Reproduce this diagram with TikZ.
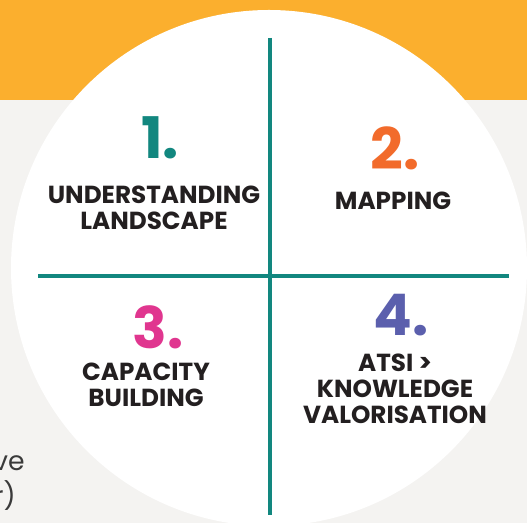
\documentclass[tikz,border=0pt]{standalone}
\usepackage{fontspec}
\setmainfont{Poppins}
\usepackage{xcolor}
\usetikzlibrary{positioning}
\definecolor{bandorange}{HTML}{FBAF2E}
\definecolor{bggray}{HTML}{F4F3F1}
\definecolor{stepteal}{HTML}{12877F}
\definecolor{steporange}{HTML}{F26B2B}
\definecolor{stepmagenta}{HTML}{E0368F}
\definecolor{steppurple}{HTML}{5B5FAD}
\definecolor{labeldark}{HTML}{231F20}
\definecolor{sidegray}{HTML}{3A3A3A}

\begin{document}
\begin{tikzpicture}[x=0.75pt, y=-0.75pt,
  num/.style={font=\fontsize{43}{43}\selectfont\bfseries, inner sep=0pt},
  label/.style={font=\fontsize{18.5}{19.5}\selectfont\bfseries,
    text=labeldark, align=center, inner sep=0pt},
  divider/.style={stepteal, line width=3pt},
  side/.style={font=\fontsize{20}{24}\selectfont, text=sidegray,
    inner sep=0pt, anchor=base east},
]

% Canvas and background
\useasboundingbox (0,0) rectangle (527,523);
\clip (0,0) rectangle (527,523);
\fill[bggray] (0,0) rectangle (527,523);
\fill[bandorange] (0,0) rectangle (527,100);
\fill[white] (269,268) circle (258);

% Cut-off side text
\node[side] (sideA) at (25,470) {ve};
\node[side] (sideB) at (16,505) {r)};

% Quadrant dividers
\coordinate (vtop) at (270,38);
\coordinate (vbot) at (270,515);
\coordinate (hleft) at (38,276);
\coordinate (hright) at (509,276);
\draw[divider] (vtop) -- (vbot);
\draw[divider] (hleft) -- (hright);

% 1. Understanding landscape
\node[num, text=stepteal] (n1) at (160,138) {1.};
\node[label] (l1) at (154,208) {UNDERSTANDING\\LANDSCAPE};

% 2. Mapping
\node[num, text=steporange] (n2) at (395,148) {2.};
\node[label] (l2) at (393,201) {MAPPING};

% 3. Capacity building
\node[num, text=stepmagenta] (n3) at (158,327) {3.};
\node[label] (l3) at (146,385) {CAPACITY\\BUILDING};

% 4. ATSI > knowledge valorisation
\node[num, text=steppurple] (n4) at (401,315) {4.};
\node[label] (l4) at (395,389) {ATSI >\\KNOWLEDGE\\VALORISATION};

\end{tikzpicture}
\end{document}
